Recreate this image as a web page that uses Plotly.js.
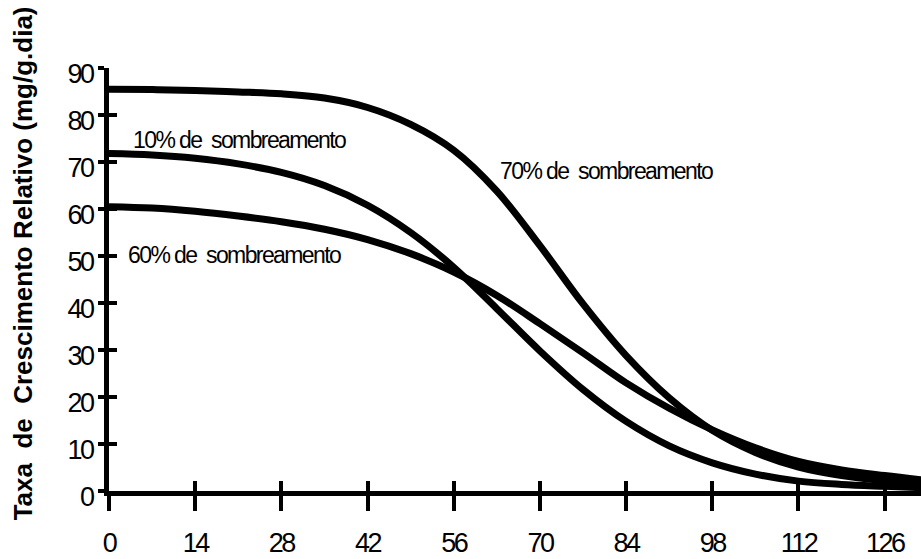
<!DOCTYPE html>
<html>
<head>
<meta charset="utf-8">
<script src="https://cdn.plot.ly/plotly-3.0.1.min.js"></script>
<style>
html, body { margin: 0; padding: 0; background: #fff; }
#chart { width: 921px; height: 559px; }
.xtick text, .ytick text { letter-spacing: -2.5px; }
.annotation[data-index="0"] text, .annotation[data-index="1"] text, .annotation[data-index="2"] text { letter-spacing: -1.6px; }
</style>
</head>
<body>
<div id="chart"></div>
<script>
// Days (x) and relative growth rate (mg/g.dia) for three shading levels
const days = [0, 7, 14, 21, 28, 35, 42, 49, 56, 63, 70, 77, 84, 91, 98, 105, 112, 119, 126, 132];
const shade10 = [71.8, 71.5, 70.8, 69.6, 67.8, 65.0, 60.8, 55.0, 47.6, 38.8, 29.8, 21.6, 14.8, 9.6, 6.0, 3.6, 2.1, 1.4, 1.0, 0.7];
const shade60 = [60.5, 60.2, 59.5, 58.5, 57.3, 55.7, 53.5, 50.5, 46.6, 41.6, 35.6, 29.4, 23.0, 17.6, 13.0, 9.2, 6.3, 4.5, 3.3, 2.4];
const shade70 = [85.5, 85.4, 85.2, 84.9, 84.5, 83.6, 81.6, 78.0, 72.5, 63.8, 52.2, 39.8, 28.8, 19.8, 12.9, 8.2, 5.1, 3.3, 2.2, 1.5];
const xTicks = [0, 14, 28, 42, 56, 70, 84, 98, 112, 126];
const yTicks = [0, 10, 20, 30, 40, 50, 60, 70, 80, 90];
const seriesLabels = ["10% de  sombreamento", "60% de  sombreamento", "70% de  sombreamento"];
const yTitle = "Taxa  de  Crescimento Relativo (mg/g.dia)";

const sans = "Liberation Sans, Arial, sans-serif";
const lineStyle = {color: "#000", width: 7, shape: "spline", smoothing: 1};

const traces = [
  {x: days, y: shade10, mode: "lines", line: lineStyle, name: seriesLabels[0], hoverinfo: "skip"},
  {x: days, y: shade60, mode: "lines", line: lineStyle, name: seriesLabels[1], hoverinfo: "skip"},
  {x: days, y: shade70, mode: "lines", line: lineStyle, name: seriesLabels[2], hoverinfo: "skip"},
  {x: [0], y: [0], xaxis: "x2", yaxis: "y2", mode: "markers", marker: {opacity: 0}, hoverinfo: "skip"}
];

const xRange = [0, 131.9];
const yRange = [0, 90];

const layout = {
  width: 921, height: 559,
  margin: {l: 109, r: 0, t: 68, b: 68, pad: 0},
  paper_bgcolor: "#fff", plot_bgcolor: "#fff",
  showlegend: false,
  xaxis: {
    range: xRange, tickvals: xTicks, ticktext: xTicks.map(String),
    showline: true, linecolor: "#000", linewidth: 5,
    ticks: "outside", ticklen: 15, tickwidth: 4, tickcolor: "#000",
    showgrid: false, zeroline: false,
    tickfont: {family: sans, size: 27, color: "#000"},
    ticklabelstandoff: 9
  },
  yaxis: {
    range: yRange, tickvals: yTicks, ticktext: yTicks.map(String),
    showline: true, linecolor: "#000", linewidth: 5,
    ticks: "outside", ticklen: 6, tickwidth: 4, tickcolor: "#000",
    showgrid: false, zeroline: false,
    tickfont: {family: sans, size: 27, color: "#000"},
    ticklabelstandoff: 0, ticklabelshift: 6
  },
  xaxis2: {
    range: xRange, tickvals: xTicks, overlaying: "x", anchor: "y2", side: "bottom",
    ticks: "inside", ticklen: 10, tickwidth: 4, tickcolor: "#000",
    showticklabels: false, showline: false, showgrid: false, zeroline: false
  },
  yaxis2: {
    range: yRange, tickvals: yTicks, overlaying: "y", anchor: "x2", side: "left",
    ticks: "inside", ticklen: 8, tickwidth: 4, tickcolor: "#000",
    showticklabels: false, showline: false, showgrid: false, zeroline: false
  },
  annotations: [
    {x: 1.0, y: 74.7, xref: "x", yref: "y", text: seriesLabels[0], showarrow: false,
     xanchor: "left", yanchor: "middle", font: {family: sans, size: 23, color: "#000"}},
    {x: 0.1, y: 50.2, xref: "x", yref: "y", text: seriesLabels[1], showarrow: false,
     xanchor: "left", yanchor: "middle", font: {family: sans, size: 23, color: "#000"}},
    {x: 60.6, y: 68.0, xref: "x", yref: "y", text: seriesLabels[2], showarrow: false,
     xanchor: "left", yanchor: "middle", font: {family: sans, size: 23, color: "#000"}},
    {x: -0.106, y: 0.538, xref: "paper", yref: "paper", text: "<b>" + yTitle + "</b>", showarrow: false,
     textangle: -90, xanchor: "center", yanchor: "middle",
     font: {family: sans, size: 26, color: "#000"}}
  ]
};

Plotly.newPlot("chart", traces, layout, {staticPlot: true, displayModeBar: false});
</script>
</body>
</html>
